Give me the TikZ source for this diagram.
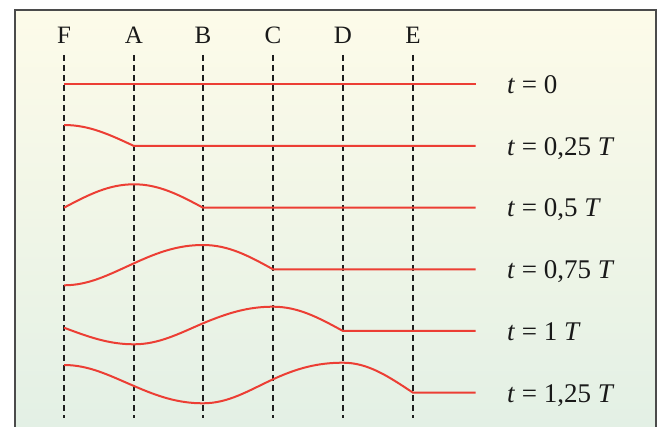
\documentclass[tikz,border=0pt]{standalone}
\usepackage{fontspec}
\setmainfont{Liberation Serif}
\definecolor{wavecol}{RGB}{236,62,52}
\definecolor{framecol}{RGB}{75,75,75}
\definecolor{dashcol}{RGB}{30,30,30}
\definecolor{bgtop}{RGB}{253,251,233}
\definecolor{bgbot}{RGB}{227,240,229}
\begin{document}
\begin{tikzpicture}[x=1pt,y=-1pt,
  colname/.style={inner sep=0pt,anchor=base,font=\fontsize{25}{30}\selectfont,text=black!90},
  tlabel/.style={inner sep=0pt,anchor=base west,font=\fontsize{27}{32}\selectfont,text=black!90},
  guide/.style={dashcol,line width=1.25pt,dash pattern=on 6pt off 4pt},
  wave/.style={wavecol,line width=2pt,line join=round}]
\useasboundingbox (0,0) rectangle (661,427);
\fill[top color=bgtop,bottom color=bgbot] (15,10) rectangle (656,427);
\draw[framecol,line width=1.6pt] (15,427) -- (15,10) -- (656,10) -- (656,427);

% column labels and dashed guides
\foreach \n/\x in {F/64,A/134,B/203,C/273,D/343,E/413}{
  \node[colname] (\n) at (\x,43.3) {\n};
  \coordinate (\n top) at (\x,55);
  \coordinate (\n bot) at (\x,418);
  \draw[guide] (\n top) -- (\n bot);
}

% right ends of the strings
\coordinate (r0) at (475.7,84.3);
\coordinate (r1) at (475.7,146);
\coordinate (r2) at (475.7,207.7);
\coordinate (r3) at (475.7,269.3);
\coordinate (r4) at (475.7,331);
\coordinate (r5) at (475.7,392.7);

% t = 0
\coordinate (s0) at (64,84.3);
\draw[wave] (s0) -- (r0);
% t = 0,25 T
\coordinate (s1) at (64,125);
\draw[wave] (s1) .. controls (89.1,125) and (109.3,134.5) .. (134,146) -- (r1);
% t = 0,5 T
\coordinate (s2) at (64,207.7);
\draw[wave] (s2) .. controls (88.4,194.8) and (108.6,184.3) .. (134,184.3)
  .. controls (158.8,184.3) and (179,194.8) .. (203,207.7) -- (r2);
% t = 0,75 T
\coordinate (s3) at (64,285.3);
\draw[wave] (s3) .. controls (89.1,285.3) and (109.3,274.4) .. (134,263.3)
  .. controls (158.1,252.2) and (178.3,245) .. (203,245)
  .. controls (228.5,245) and (248.7,255.9) .. (273,269.3) -- (r3);
% t = 1 T
\coordinate (s4) at (64,327.7);
\draw[wave] (s4) .. controls (88.4,336.8) and (108.6,344.3) .. (134,344.3)
  .. controls (158.8,344.3) and (179,333.6) .. (203,323.3)
  .. controls (227.8,313.0) and (248,306.7) .. (273,306.7)
  .. controls (298.2,306.7) and (318.4,317.6) .. (343,331) -- (r4);
% t = 1,25 T
\coordinate (s5) at (64,365);
\draw[wave] (s5) .. controls (89.1,365) and (109.3,375.5) .. (134,386)
  .. controls (158.1,396.5) and (178.3,403.3) .. (203,403.3)
  .. controls (228.5,403.3) and (248.7,390.5) .. (273,379.3)
  .. controls (297.5,368.1) and (317.7,362.7) .. (343,362.7)
  .. controls (367.9,362.7) and (388.1,376.2) .. (413,392.7) -- (r5);

% time labels
\node[tlabel] (l0) at (507,93.6) {\textit{t} = 0};
\node[tlabel] (l1) at (507,155.3) {\textit{t} = 0,25 \textit{T}};
\node[tlabel] (l2) at (507,217) {\textit{t} = 0,5 \textit{T}};
\node[tlabel] (l3) at (507,278.6) {\textit{t} = 0,75 \textit{T}};
\node[tlabel] (l4) at (507,340.3) {\textit{t} = 1 \textit{T}};
\node[tlabel] (l5) at (507,402) {\textit{t} = 1,25 \textit{T}};
\end{tikzpicture}
\end{document}
